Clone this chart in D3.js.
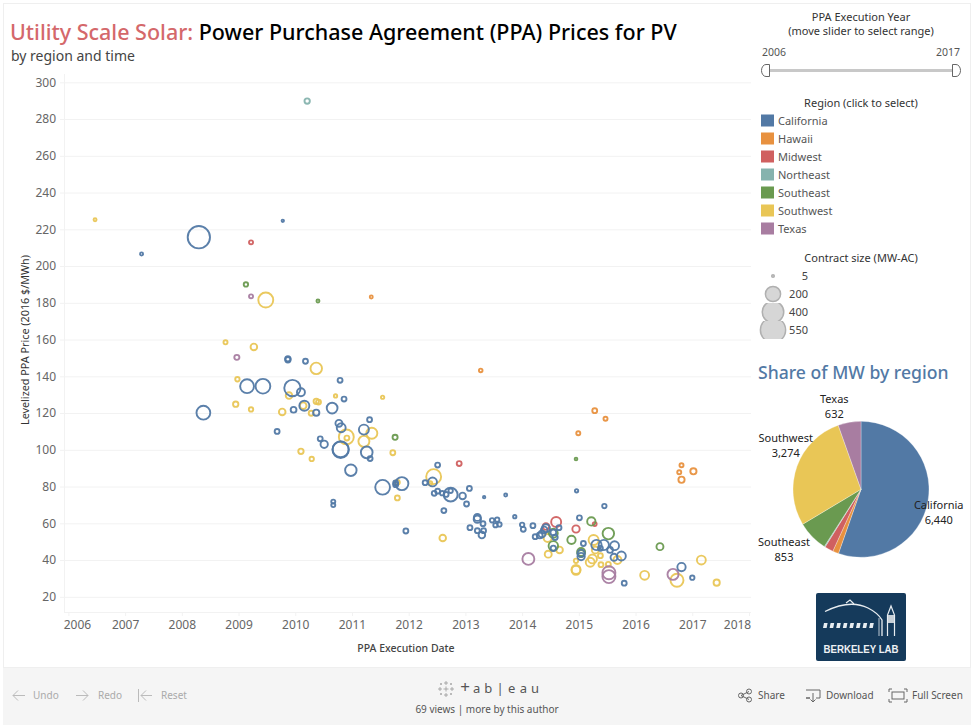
<!DOCTYPE html>
<html>
  <head>
    <meta charset="UTF-8" />
    <title>Utility Scale Solar PPA Prices</title>
    <style>
      body { margin: 0; background: #fff; overflow: hidden; }
      svg { display: block; font-family: "Noto Sans", sans-serif; }
    </style>
  </head>
  <body>
    <svg></svg>
    <script src="https://d3js.org/d3.v7.min.js"></script>
    <script>
      // each point is [execution date as decimal year, price $/MWh, contract MW]
      var california = [
        [2008.30,215.7,470],[2007.29,206.6,14],[2009.78,224.6,10],[2008.38,120.2,190],[2009.15,134.6,190],
        [2009.43,134.6,215],[2009.87,149.5,35],[2009.87,149.0,35],[2010.18,148.2,30],[2009.95,133.6,260],
        [2010.10,131.3,70],[2010.79,137.8,30],[2010.86,127.6,30],[2010.16,124,105],[2009.97,121.8,40],
        [2010.37,120.2,45],[2010.65,122.7,120],[2009.68,110,30],[2010.77,114.4,55],[2010.81,112,85],
        [2010.44,106,30],[2010.51,103,60],[2010.80,100,260],[2010.80,100.3,250],[2011.31,116.4,30],
        [2011.21,111,105],[2011.26,98.6,140],[2011.32,95.2,30],[2010.98,88.9,135],[2011.54,79.6,215],
        [2011.88,81.6,170],[2011.77,82,30],[2011.77,81,30],[2010.67,71.8,22],[2010.67,69.9,22],
        [2011.95,55.8,30],[2012.51,91.7,30],[2012.42,82.5,85],[2012.29,82.1,30],[2012.45,76.3,30],
        [2012.51,77.5,30],[2012.74,75.6,190],[2012.59,76.4,25],[2012.66,75.7,30],[2012.74,77.7,25],
        [2012.95,74.9,50],[2013.07,79,30],[2013.02,70.5,30],[2012.62,66.9,30],[2013.33,74.2,10],
        [2013.71,75.4,14],[2013.21,63.2,55],[2013.21,62.2,60],[2013.31,59.8,30],[2013.08,57.6,30],
        [2013.21,56,30],[2013.32,56,30],[2013.29,53.6,50],[2013.47,61.6,25],[2013.56,62,25],
        [2013.53,59,25],[2013.6,59.4,25],[2013.87,63.6,16],[2014.0,59.2,25],[2014.02,56.7,30],
        [2014.19,58.7,30],[2014.23,52.7,30],[2014.31,53.4,40],[2014.35,54.2,55],[2014.39,56.4,50],
        [2014.42,57.3,70],[2014.55,55,40],[2014.65,57.6,30],[2014.58,52.4,35],[2014.55,46.4,35],
        [2014.96,77.7,16],[2015.45,69.4,25],[2015.01,63,30],[2015.08,49,30],[2015.04,43.7,60],
        [2015.04,41.9,60],[2015.31,48.2,110],[2015.44,48.2,110],[2015.63,47.8,85],[2015.55,45.5,40],
        [2015.38,46.4,30],[2015.62,41.5,55],[2015.75,42.2,85],[2015.80,27.4,30],[2016.81,36.2,75],
        [2017.0,30.4,25]
      ];
      var hawaii = [
        [2011.34,183.2,14],[2013.27,143.2,18],[2015.28,121.3,30],[2015.47,116.9,22],[2014.99,109,22],
        [2016.81,91.6,22],[2016.77,87.8,22],[2017.02,88.3,45],[2016.81,83.7,45]
      ];
      var midwest = [
        [2009.22,212.9,22],[2012.89,92.5,30],[2014.6,60.7,105],[2014.42,58.2,50],[2014.95,56.9,60],[2015.28,59.6,20]
      ];
      var northeast = [[2010.21,289.8,35]];
      var southeast = [
        [2009.13,190,25],[2010.4,181,14],[2011.76,106.8,32],[2014.95,95,12],[2015.22,61,75],[2015.52,54.4,135],
        [2014.87,51,75],[2015.04,44.4,70],[2015.04,43.5,55],[2014.55,47.7,95],[2014.55,54.6,85],[2016.43,47.3,55]
      ];
      var southwest = [
        [2006.47,225.2,14],[2009.48,181.5,220],[2008.77,158.5,22],[2009.27,156,50],[2010.37,144.3,135],
        [2008.98,138.4,25],[2008.95,124.8,35],[2009.22,122,25],[2009.89,129.5,50],[2009.77,120.6,50],
        [2010.14,124,50],[2010.37,126.4,35],[2010.41,126,30],[2010.28,119.9,30],[2010.71,129.3,16],
        [2011.54,128.6,16],[2010.90,107,220],[2010.91,106.4,30],[2011.35,109,125],[2011.21,104.6,125],
        [2010.10,99.2,35],[2010.29,95,25],[2011.72,98.4,30],[2011.80,82.3,30],[2011.80,73.8,30],
        [2012.44,85.4,220],[2012.38,81.8,22],[2012.6,52,50],[2014.46,43.2,55],[2014.66,45.5,50],
        [2014.45,52,70],[2014.95,39.6,25],[2014.95,34.4,85],[2014.95,34.9,85],[2015.26,50.9,105],
        [2015.29,45.5,55],[2015.2,38.8,85],[2015.24,40.6,85],[2015.38,42.4,30],[2015.39,37.5,30],
        [2015.52,37.7,30],[2015.68,40,70],[2016.16,31.7,85],[2016.73,29,170],[2017.16,40,85],[2017.43,27.7,45]
      ];
      var texas = [
        [2009.22,183.5,22],[2008.97,150.3,32],[2014.11,40.6,145],[2015.53,33.1,170],[2015.53,31,170],[2016.66,32.2,125]
      ];

      var regions = ["California", "Hawaii", "Midwest", "Northeast", "Southeast", "Southwest", "Texas"];
      var colours = ["#5279a5", "#e8913f", "#d06060", "#86b3ae", "#6a9a50", "#e9c656", "#a87da1"];
      var regionPoints = [california, hawaii, midwest, northeast, southeast, southwest, texas];
      // yellow goes underneath, blue ends up on top like the original
      var drawOrder = [5, 6, 2, 4, 3, 1, 0];

      var yTicks = [20, 40, 60, 80, 100, 120, 140, 160, 180, 200, 220, 240, 260, 280, 300];
      var xTicks = [2006, 2007, 2008, 2009, 2010, 2011, 2012, 2013, 2014, 2015, 2016, 2017, 2018];

      var sizeLegend = [5, 200, 400, 550];

      // share of MW pie
      var pieValues = [6440, 165, 240, 25, 853, 3274, 632];
      var pieLabels = [
        { region: "California", value: "6,440", x: 938.7, y: 509 },
        { region: "Southeast", value: "853", x: 784, y: 546 },
        { region: "Southwest", value: "3,274", x: 785.7, y: 442 },
        { region: "Texas", value: "632", x: 834.3, y: 403 },
      ];

      var svg = d3.select("svg").attr("width", 976).attr("height", 725);

      // dashboard frame and bottom toolbar
      svg.append("rect").attr("x", 3.5).attr("y", 3.5).attr("width", 967).attr("height", 664)
        .attr("fill", "#fff").attr("stroke", "#efefef");
      svg.append("rect").attr("x", 3).attr("y", 668).attr("width", 968).attr("height", 57).attr("fill", "#f5f5f5");

      var title = svg.append("text").attr("x", 10).attr("y", 40).attr("font-size", 21.5).attr("font-weight", 500);
      title.append("tspan").attr("fill", "#d4686b").text("Utility Scale Solar: ");
      title.append("tspan").attr("fill", "#000").text("Power Purchase Agreement (PPA) Prices for PV");
      svg.append("text").attr("x", 11).attr("y", 61).attr("font-size", 14).attr("fill", "#444").text("by region and time");

      var x = d3.scaleLinear().domain([2006, 2018]).range([68.4, 749]);
      var y = d3.scaleLinear().domain([20, 300]).range([596.8, 82.3]);
      var size = d3.scaleSqrt().domain([0, 550]).range([0, 12.6]);

      // y axis, ticks stretched over to make the gridlines
      var yAxis = svg.append("g").attr("transform", "translate(64,0)")
        .call(d3.axisLeft(y).tickValues(yTicks).tickSize(4).tickFormat(d3.format("d")));
      yAxis.select(".domain").attr("d", "M0.5,74V612").attr("stroke", "#f2f2f2");
      yAxis.selectAll(".tick line").attr("stroke", "#f2f2f2");
      yAxis.selectAll(".tick").append("line").attr("x1", 0).attr("x2", 687).attr("stroke", "#f2f2f2");
      yAxis.selectAll(".tick text").attr("x", -8).attr("font-size", 12).attr("fill", "#666")
        .attr("font-family", '"Noto Sans", sans-serif');

      var xAxis = svg.append("g").attr("transform", "translate(0,612)")
        .call(d3.axisBottom(x).tickValues(xTicks).tickSize(4).tickFormat(d3.format("d")));
      xAxis.select(".domain").attr("d", "M64,0.5H751").attr("stroke", "#f2f2f2");
      xAxis.selectAll(".tick line").attr("stroke", "#f2f2f2");
      xAxis.selectAll(".tick text").attr("y", 8).attr("font-size", 12).attr("fill", "#666")
        .attr("font-family", '"Noto Sans", sans-serif');
      // the end labels get pushed inside the pane
      xAxis.selectAll(".tick text").filter(function (d) { return d === 2006; }).attr("dx", 8.5);
      xAxis.selectAll(".tick text").filter(function (d) { return d === 2018; }).attr("dx", -12);

      svg.append("text").attr("x", 406).attr("y", 652).attr("text-anchor", "middle")
        .attr("font-size", 10.5).attr("font-weight", 500).attr("fill", "#444").text("PPA Execution Date");
      svg.append("text").attr("transform", "translate(29,340) rotate(-90)").attr("text-anchor", "middle")
        .attr("font-size", 10.8).attr("fill", "#333").text("Levelized PPA Price (2016 $/MWh)");

      // bubbles
      drawOrder.forEach(function (i) {
        svg.append("g").attr("class", "region").selectAll("circle")
          .data(regionPoints[i])
          .enter()
          .append("circle")
          .attr("cx", function (d) { return x(d[0]); })
          .attr("cy", function (d) { return y(d[1]); })
          .attr("r", function (d) { return Math.max(size(d[2]) - 0.5, 1.1); })
          .attr("fill", "none")
          .attr("stroke", colours[i])
          .attr("stroke-width", 1.9)
          .attr("stroke-opacity", 0.95);
      });

      // slider
      var panel = svg.append("g").attr("font-size", 11).attr("fill", "#333");
      panel.append("text").attr("x", 861).attr("y", 21).attr("text-anchor", "middle").text("PPA Execution Year");
      panel.append("text").attr("x", 861).attr("y", 35).attr("text-anchor", "middle").text("(move slider to select range)");
      panel.append("text").attr("x", 762).attr("y", 56).attr("fill", "#555").attr("font-size", 10.5).text("2006");
      panel.append("text").attr("x", 960).attr("y", 56).attr("fill", "#555").attr("font-size", 10.5)
        .attr("text-anchor", "end").text("2017");
      panel.append("rect").attr("x", 769).attr("y", 69).attr("width", 184).attr("height", 3).attr("fill", "#c8c8c8");
      panel.append("path").attr("d", "M769.5,64.5H766a4.5,6 0 0 0 -4.5,6a4.5,6 0 0 0 4.5,6H769.5Z")
        .attr("fill", "#fff").attr("stroke", "#666");
      panel.append("path").attr("d", "M952.5,64.5H956a4.5,6 0 0 1 4.5,6a4.5,6 0 0 1 -4.5,6H952.5Z")
        .attr("fill", "#fff").attr("stroke", "#666");

      // region legend
      panel.append("text").attr("x", 861).attr("y", 107).attr("text-anchor", "middle").text("Region (click to select)");
      var legendRow = panel.selectAll(".legend-row").data(regions).enter().append("g")
        .attr("class", "legend-row")
        .attr("transform", function (d, i) { return "translate(761," + (114.5 + i * 18) + ")"; });
      legendRow.append("rect").attr("width", 13).attr("height", 12)
        .attr("fill", function (d, i) { return colours[i]; });
      legendRow.append("text").attr("x", 17).attr("y", 10.5).attr("fill", "#555").text(function (d) { return d; });

      // size legend, the rows clip the larger circles
      panel.append("text").attr("x", 861).attr("y", 262).attr("text-anchor", "middle").text("Contract size (MW-AC)");
      var sizeRow = panel.selectAll(".size-row").data(sizeLegend).enter().append("g")
        .attr("class", "size-row")
        .attr("transform", function (d, i) { return "translate(0," + (267 + i * 18) + ")"; });
      svg.append("defs").selectAll("clipPath").data(sizeLegend).enter().append("clipPath")
        .attr("id", function (d, i) { return "size-clip-" + i; })
        .append("rect").attr("x", 750).attr("y", 0).attr("width", 50).attr("height", 18);
      sizeRow.append("circle")
        .attr("clip-path", function (d, i) { return "url(#size-clip-" + i + ")"; })
        .attr("cx", 773).attr("cy", 9)
        .attr("r", function (d) { return Math.max(size(d), 1.3); })
        .attr("fill", "#d6d6d6").attr("stroke", "#b0b0b0").attr("stroke-width", 1.5);
      sizeRow.append("text").attr("x", 808).attr("y", 13).attr("text-anchor", "end").attr("fill", "#444")
        .text(function (d) { return d; });

      // pie
      svg.append("text").attr("x", 758).attr("y", 379).attr("font-size", 17.6).attr("font-weight", 500)
        .attr("fill", "#5279a5").text("Share of MW by region");
      var pie = d3.pie().sort(null).value(function (d) { return d; });
      var arc = d3.arc().innerRadius(0).outerRadius(68);
      svg.append("g").attr("transform", "translate(861,489.3)").selectAll("path")
        .data(pie(pieValues)).enter().append("path")
        .attr("d", arc)
        .attr("fill", function (d, i) { return colours[i]; })
        .attr("stroke", "#fff").attr("stroke-width", 0.3);
      var pieText = svg.selectAll(".pie-label").data(pieLabels).enter().append("text")
        .attr("class", "pie-label").attr("text-anchor", "middle").attr("font-size", 11).attr("fill", "#222");
      pieText.append("tspan").attr("x", function (d) { return d.x; }).attr("y", function (d) { return d.y; })
        .text(function (d) { return d.region; });
      pieText.append("tspan").attr("x", function (d) { return d.x; }).attr("y", function (d) { return d.y + 15; })
        .text(function (d) { return d.value; });

      // Berkeley Lab logo
      var logo = svg.append("g");
      logo.append("rect").attr("x", 816).attr("y", 593).attr("width", 90).attr("height", 68).attr("rx", 2).attr("fill", "#153a5b");
      logo.append("path").attr("d", "M825,611.5Q850,599 868,608Q878,613 882,620V636")
        .attr("fill", "none").attr("stroke", "#e8edf1").attr("stroke-width", 1.3);
      logo.append("path").attr("d", "M879,618V636").attr("fill", "none").attr("stroke", "#e8edf1").attr("stroke-width", 0.8);
      logo.append("path").attr("d", "M846,603L850,600L854,604").attr("fill", "none").attr("stroke", "#e8edf1").attr("stroke-width", 1.2);
      d3.range(8).forEach(function (i) {
        logo.append("path").attr("d", "M" + (824 + i * 6.6) + ",623h3.6l-1,5h-3.6Z").attr("fill", "#e8edf1");
      });
      logo.append("path").attr("d", "M887.5,636V615L891,606L894.5,615V636").attr("fill", "none").attr("stroke", "#e8edf1").attr("stroke-width", 1.2);
      logo.append("rect").attr("x", 888).attr("y", 615).attr("width", 6).attr("height", 8).attr("fill", "#c7cfd6");
      logo.append("text").attr("x", 861).attr("y", 653).attr("text-anchor", "middle").attr("font-size", 11.5)
        .attr("font-weight", 700).attr("fill", "#eef1f4").attr("font-family", '"Liberation Sans", sans-serif')
        .attr("textLength", 75).attr("lengthAdjust", "spacingAndGlyphs")
        .text("BERKELEY LAB");

      // toolbar
      var bar = svg.append("g").attr("font-size", 10).attr("fill", "#aaa");
      var lineStyle = function (sel) { return sel.attr("fill", "none").attr("stroke", "#bbb").attr("stroke-width", 1); };
      lineStyle(bar.append("path")).attr("d", "M25,695.5H13M18,690.5L13,695.5L18,700.5");
      bar.append("text").attr("x", 33).attr("y", 699).text("Undo");
      lineStyle(bar.append("path")).attr("d", "M76,695.5H88M83,690.5L88,695.5L83,700.5");
      bar.append("text").attr("x", 98).attr("y", 699).text("Redo");
      lineStyle(bar.append("path")).attr("d", "M138.5,689V702M152,695.5H141M146,690.5L141,695.5L146,700.5");
      bar.append("text").attr("x", 161).attr("y", 699).text("Reset");

      var dark = svg.append("g").attr("font-size", 10).attr("fill", "#555");
      dark.append("text").attr("x", 487).attr("y", 713).attr("text-anchor", "middle").text("69 views | more by this author");
      dark.append("text").attr("x", 758).attr("y", 699).text("Share");
      dark.append("text").attr("x", 826).attr("y", 699).text("Download");
      dark.append("text").attr("x", 912).attr("y", 699).text("Full Screen");
      var iconStyle = function (sel) { return sel.attr("fill", "none").attr("stroke", "#666").attr("stroke-width", 1); };
      iconStyle(dark.append("path")).attr("d", "M741,695.5L749,691.5M741,695.5L749,699.5");
      iconStyle(dark.append("circle")).attr("cx", 741).attr("cy", 695.5).attr("r", 2.5);
      iconStyle(dark.append("circle")).attr("cx", 749).attr("cy", 691.5).attr("r", 2.5);
      iconStyle(dark.append("circle")).attr("cx", 749).attr("cy", 699.5).attr("r", 2.5);
      iconStyle(dark.append("path")).attr("d", "M806,690H820V698H816M810,698H806ZM813,693V702M810.5,699.5L813,702L815.5,699.5");
      iconStyle(dark.append("rect")).attr("x", 892).attr("y", 692).attr("width", 12).attr("height", 7);
      iconStyle(dark.append("path")).attr("d", "M889,692V689H892M904,689H907V692M907,699V702H904M892,702H889V699");

      // tableau wordmark
      var cross = [[446,683,4],[446,695,4],[440,689,4],[452,689,4],[446,689,5],[441,684,2],[451,684,2],[441,694,2],[451,694,2]];
      cross.forEach(function (c) {
        dark.append("path").attr("d", "M" + (c[0] - c[2] / 2) + "," + c[1] + "h" + c[2] + "M" + c[0] + "," + (c[1] - c[2] / 2) + "v" + c[2])
          .attr("stroke", "#999").attr("stroke-width", 0.8);
      });
      var wordmark = ["+", "a", "b", "|", "e", "a", "u"];
      var wordmarkX = d3.scalePoint().domain(d3.range(wordmark.length)).range([465, 535]);
      dark.selectAll(".wordmark").data(wordmark).enter().append("text")
        .attr("class", "wordmark")
        .attr("x", function (d, i) { return wordmarkX(i); })
        .attr("y", 693).attr("text-anchor", "middle")
        .attr("font-size", function (d, i) { return i === 0 ? 17 : 13; })
        .attr("fill", "#555")
        .text(function (d) { return d; });
    </script>
  </body>
</html>
